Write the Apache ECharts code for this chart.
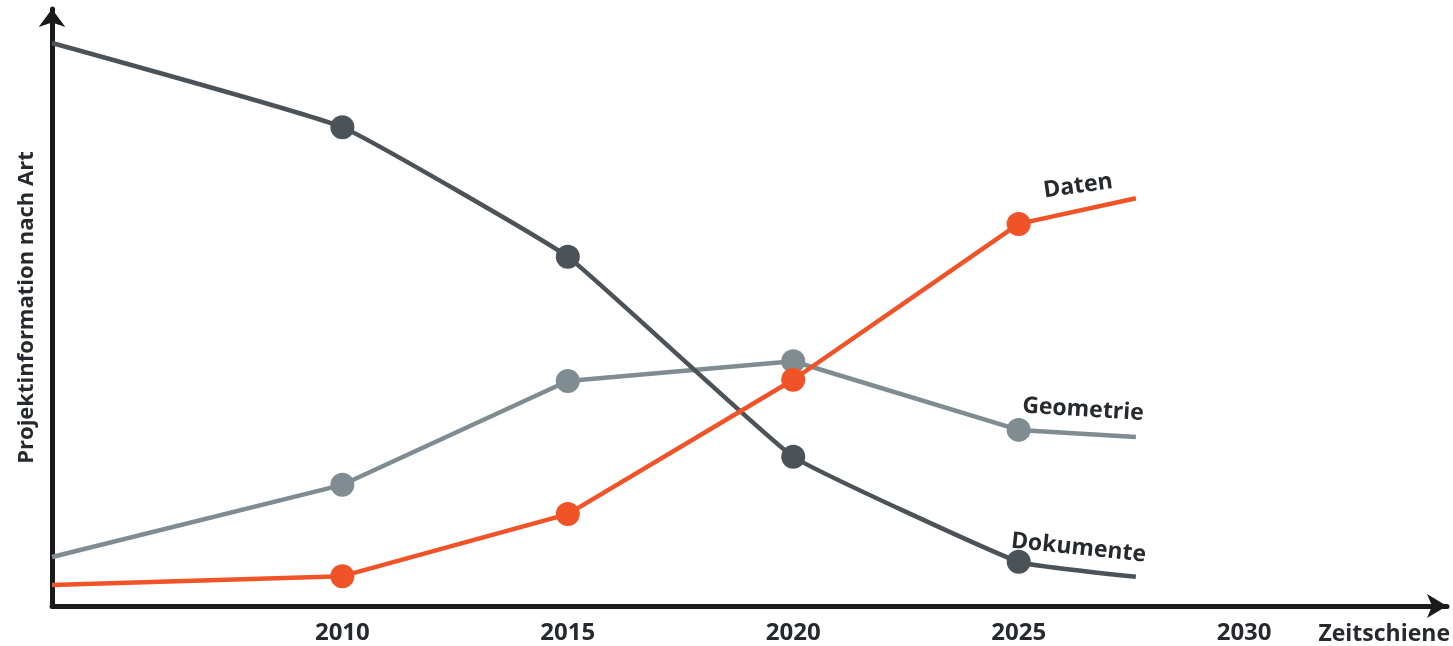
<!DOCTYPE html>
<html><head><meta charset="utf-8">
<script src="https://cdn.jsdelivr.net/npm/echarts@6/dist/echarts.min.js"></script>
<style>html,body{margin:0;padding:0;background:#fff}#c{width:1453px;height:646px}</style>
</head><body><div id="c"></div>
<script>
const years = [2003.56, 2010, 2015, 2020, 2025, 2027.6];
const tickYears = [2010, 2015, 2020, 2025, 2030];
const dokumente = [94.3, 80.2, 58.5, 25.0, 7.4, 4.9];
const geometrie = [8.2, 20.3, 37.7, 41.0, 29.5, 28.3];
const daten = [3.5, 5.0, 15.4, 37.9, 64.0, 68.3];
const seriesNames = ['Dokumente', 'Geometrie', 'Daten'];
const xName = 'Zeitschiene';
const yName = 'Projektinformation nach Art';

const font = '"Open Sans", "DejaVu Sans", sans-serif';
const textColor = '#262a2e';
function mk(name, vals, color, smooth, off, rot) {
  return {
    name: name, type: 'line', smooth: smooth,
    data: vals.map((v, i) => {
      const d = {value: [years[i], v]};
      if (i === 0 || i === vals.length - 1) d.symbol = 'none';
      if (i === 4) d.label = {show: true, formatter: name, position: 'inside', offset: off, rotate: rot,
        align: 'center', verticalAlign: 'middle',
        color: textColor, fontFamily: font, fontWeight: 'bold', fontSize: 23};
      return d;
    }),
    symbol: 'circle', symbolSize: 24,
    lineStyle: {color: color, width: 4.5},
    itemStyle: {color: color},
    label: {show: false},
    emphasis: {disabled: true}
  };
}
const chart = echarts.init(document.getElementById('c'), null, {renderer: 'canvas'});
chart.setOption({
  animation: false,
  grid: {left: 52, right: 3, top: 9, bottom: 39},
  xAxis: {
    type: 'value', min: years[0], max: 2034.5,
    axisLine: {lineStyle: {color: '#1a1a1a', width: 5}, symbol: ['none', 'arrow'], symbolSize: [18, 20]},
    axisTick: {show: false}, splitLine: {show: false},
    axisLabel: {customValues: tickYears, formatter: v => String(v), color: textColor, fontFamily: font, fontWeight: 'bold', fontSize: 24, margin: 15},
    name: xName, nameLocation: 'end', nameGap: 3,
    nameTextStyle: {align: 'right', verticalAlign: 'top', padding: [17, 0, 0, 0], color: textColor, fontFamily: font, fontWeight: 'bold', fontSize: 23}
  },
  yAxis: {
    type: 'value', min: 0, max: 100,
    axisLine: {show: true, lineStyle: {color: '#1a1a1a', width: 5}, symbol: ['none', 'arrow'], symbolSize: [20, 18]},
    axisTick: {show: false}, splitLine: {show: false}, axisLabel: {show: false},
    name: yName, nameLocation: 'middle', nameGap: 14,
    nameTextStyle: {color: textColor, fontFamily: font, fontWeight: 'bold', fontSize: 22, verticalAlign: 'bottom'}
  },
  series: [
    mk(seriesNames[1], geometrie, '#7f8d92', false, [63, -24], -3.5),
    mk(seriesNames[0], dokumente, '#4b5358', 0.1, [58, -20], -6),
    mk(seriesNames[2], daten, '#f05328', false, [64, -29], 8)
  ]
});
</script></body></html>
